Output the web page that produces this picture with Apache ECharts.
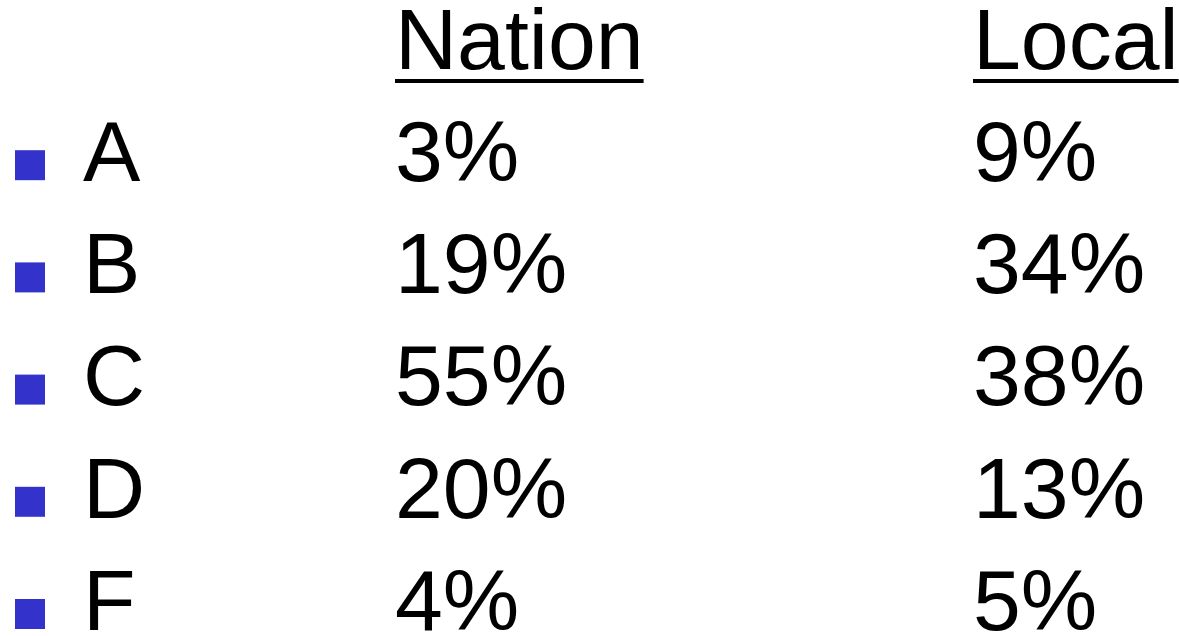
<!DOCTYPE html>
<html>
<head>
<meta charset="utf-8">
<script src="https://cdn.jsdelivr.net/npm/echarts@6/dist/echarts.min.js"></script>
<style>
  html, body { margin: 0; padding: 0; background: #fff; }
  #chart { width: 1179px; height: 636px; }
</style>
</head>
<body>
<div id="chart"></div>
<script>
// table data
const categories = ['A', 'B', 'C', 'D', 'F']
const nation = [3, 19, 55, 20, 4]
const local = [9, 34, 38, 13, 5]
const headers = ['Nation', 'Local']

const FONT = '86px "Liberation Sans", Arial, sans-serif'
const bulletColor = '#3333cc'
// column left edges (layout only)
const colBullet = 30
const colLabel = 83
const colValue = [395, 973]
const textShift = 3

const measure = (function () {
  const ctx = document.createElement('canvas').getContext('2d')
  ctx.font = FONT
  return t => ctx.measureText(t).width
})()

const rows = ['header'].concat(categories)
const rowData = categories.map((c, i) => [c, c, nation[i], local[i]])

function cell (text, x, y) {
  return {
    type: 'text',
    style: { text: text, x: x, y: y + textShift, font: FONT, fill: '#000', verticalAlign: 'middle', align: 'left' }
  }
}

const chart = echarts.init(document.getElementById('chart'))
const option = {
  animation: false,
  grid: { left: 0, right: 0, top: 42, bottom: 33 },
  xAxis: { type: 'value', show: false, min: 0, max: 1 },
  yAxis: { type: 'category', show: false, inverse: true, boundaryGap: false, data: rows },
  series: [
    {
      type: 'custom',
      name: 'header',
      data: [['header']],
      encode: { y: 0 },
      renderItem (params, api) {
        const y = api.coord([0, 'header'])[1]
        const children = []
        headers.forEach((h, k) => {
          children.push(cell(h, colValue[k], y))
          children.push({
            type: 'rect',
            shape: { x: colValue[k], y: y + 37, width: measure(h), height: 4 },
            style: { fill: '#000' }
          })
        })
        return { type: 'group', children }
      }
    },
    {
      type: 'custom',
      name: 'rows',
      data: rowData,
      encode: { y: 0 },
      renderItem (params, api) {
        const i = params.dataIndex
        const y = api.coord([0, categories[i]])[1]
        return {
          type: 'group',
          children: [
            {
              type: 'rect',
              shape: { x: colBullet - 15, y: y - 4, width: 30, height: 30 },
              style: { fill: bulletColor }
            },
            cell(categories[i], colLabel, y),
            cell(nation[i] + '%', colValue[0], y),
            cell(local[i] + '%', colValue[1], y)
          ]
        }
      }
    }
  ]
}
chart.setOption(option)
</script>
</body>
</html>
